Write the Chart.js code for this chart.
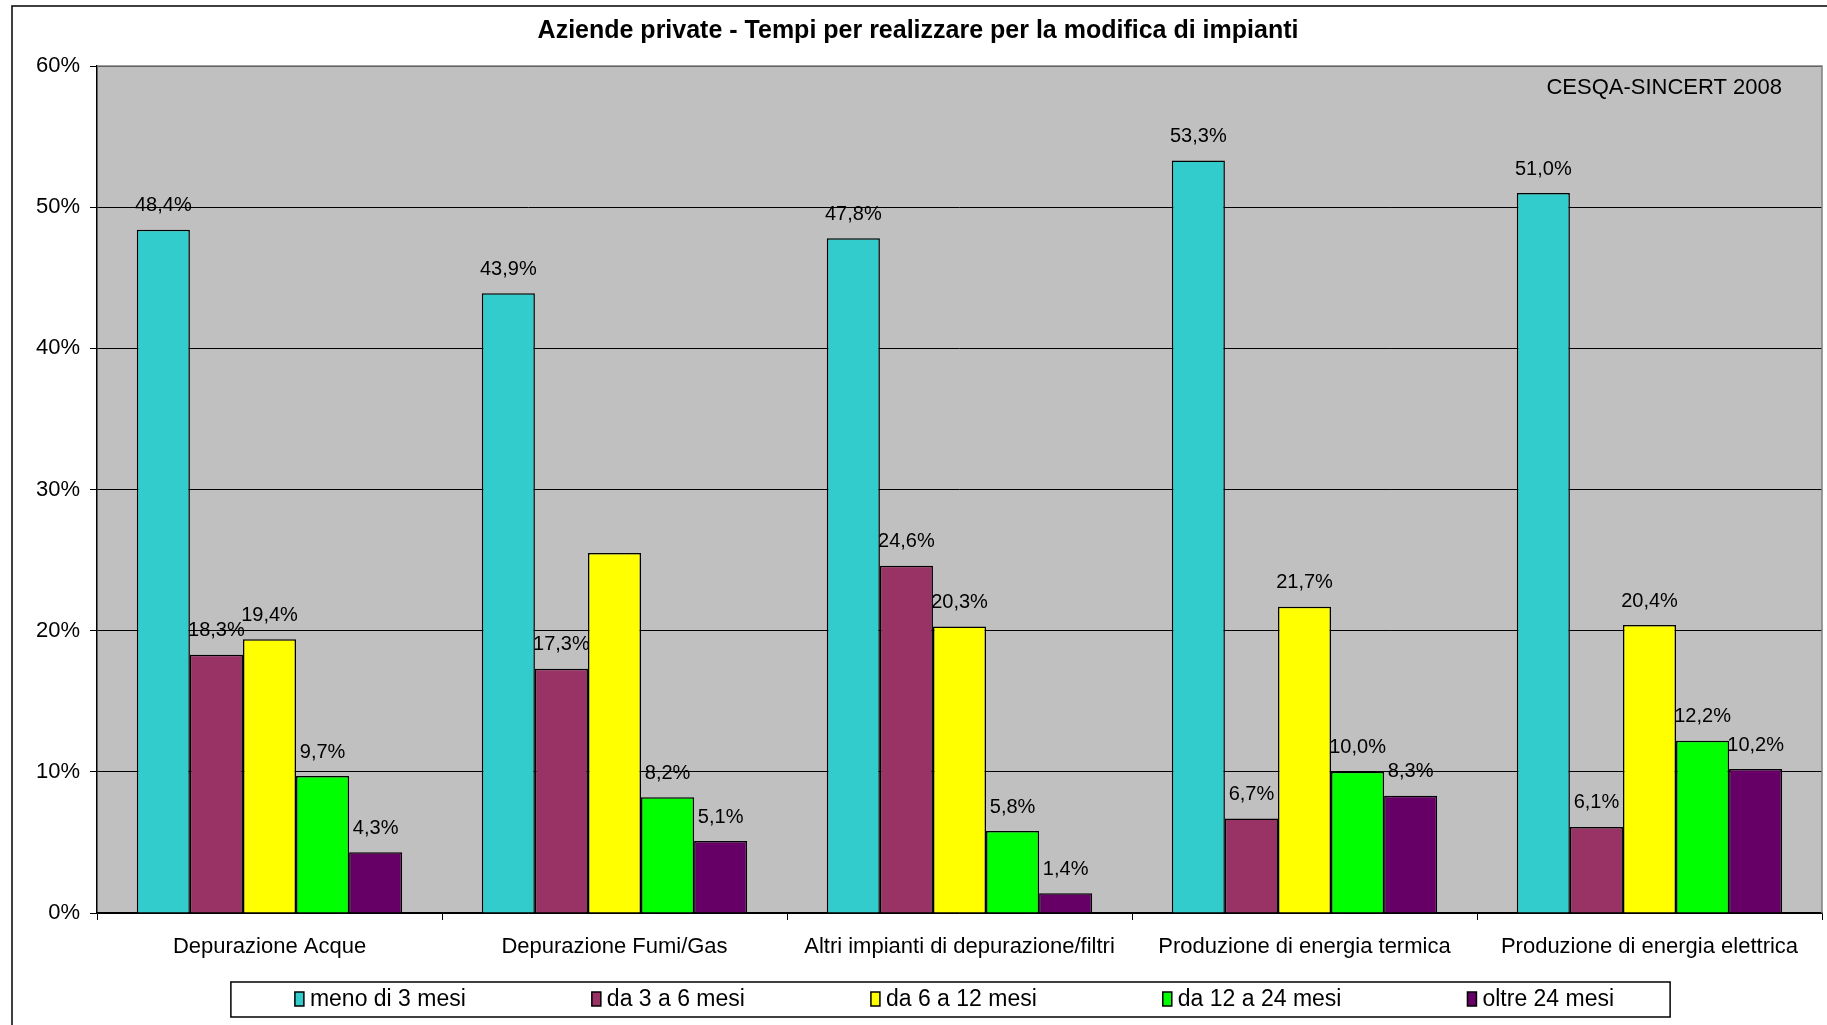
<!DOCTYPE html>
<html>
<head>
<meta charset="utf-8">
<script src="https://cdn.jsdelivr.net/npm/chart.js@4"></script>
<style>
  html, body { margin: 0; padding: 0; background: #fff; overflow: hidden; }
  #wrap { width: 1827px; height: 1025px; position: relative; }
</style>
</head>
<body>
<div id="wrap"><canvas id="chart"></canvas></div>
<script>
// Data
const categories = ['Depurazione Acque', 'Depurazione Fumi/Gas', 'Altri impianti di depurazione/filtri',
  'Produzione di energia termica', 'Produzione di energia elettrica'];
const seriesNames = ['meno di 3 mesi', 'da 3 a 6 mesi', 'da 6 a 12 mesi', 'da 12 a 24 mesi', 'oltre 24 mesi'];
const meno3 = [48.4, 43.9, 47.8, 53.3, 51.0];
const da3a6 = [18.3, 17.3, 24.6, 6.7, 6.1];
const da6a12 = [19.4, 25.5, 20.3, 21.7, 20.4];
const da12a24 = [9.7, 8.2, 5.8, 10.0, 12.2];
const oltre24 = [4.3, 5.1, 1.4, 8.3, 10.2];
const yTicks = [0, 10, 20, 30, 40, 50, 60];
const colors = ['#33CCCC', '#993366', '#FFFF00', '#00FF00', '#660066'];
// the original has no label on this bar (dataset, index)
const hiddenLabels = [[2, 1]];

const FONT = "'Liberation Sans', Arial, sans-serif";
const allSeries = [meno3, da3a6, da6a12, da12a24, oltre24];

const fmt = v => v.toFixed(1).replace('.', ',') + '%';

// Plot background + outer frame
const backdrop = {
  id: 'backdrop',
  beforeDraw(chart) {
    const { ctx, chartArea: a } = chart;
    ctx.save();
    ctx.fillStyle = '#fff';
    ctx.fillRect(0, 0, chart.width, chart.height);
    ctx.fillStyle = '#C0C0C0';
    ctx.fillRect(a.left, a.top, a.right - a.left, a.bottom - a.top);
    ctx.strokeStyle = '#000';
    ctx.lineWidth = 1.5;
    ctx.beginPath();
    ctx.moveTo(12, chart.height);
    ctx.lineTo(12, 6);
    ctx.lineTo(chart.width, 6);
    ctx.stroke();
    ctx.restore();
  }
};

// Value labels above bars
const valueLabels = {
  id: 'valueLabels',
  afterDatasetsDraw(chart) {
    const ctx = chart.ctx;
    ctx.save();
    ctx.font = '20px ' + FONT;
    ctx.fillStyle = '#000';
    ctx.textAlign = 'center';
    ctx.textBaseline = 'middle';
    chart.data.datasets.forEach((ds, di) => {
      chart.getDatasetMeta(di).data.forEach((bar, i) => {
        if (hiddenLabels.some(h => h[0] === di && h[1] === i)) return;
        ctx.fillText(fmt(ds.data[i]), bar.x, bar.y - 24);
      });
    });
    ctx.restore();
  }
};

// Plot border, watermark and the framed legend
const extras = {
  id: 'extras',
  afterDraw(chart) {
    const { ctx, chartArea: a } = chart;
    ctx.save();
    ctx.strokeStyle = '#808080';
    ctx.lineWidth = 1.5;
    ctx.beginPath();
    ctx.moveTo(a.left, a.top);
    ctx.lineTo(a.right, a.top);
    ctx.lineTo(a.right, a.bottom);
    ctx.stroke();

    ctx.fillStyle = '#000';
    ctx.font = '22px ' + FONT;
    ctx.textAlign = 'right';
    ctx.textBaseline = 'middle';
    ctx.fillText('CESQA-SINCERT 2008', a.right - 40, a.top + 22);

    // legend
    ctx.font = '23px ' + FONT;
    const boxW = 9, boxH = 14, gap = 6, pad = 126;
    const widths = seriesNames.map(n => boxW + gap + ctx.measureText(n).width);
    const total = widths.reduce((s, w) => s + w, 0) + pad * (widths.length - 1);
    const cy = chart.height - 26;
    let x = (a.left + a.right) / 2 - total / 2 - 5;
    const startX = x;
    ctx.textAlign = 'left';
    seriesNames.forEach((n, i) => {
      ctx.fillStyle = colors[i];
      ctx.fillRect(x, cy - boxH / 2, boxW, boxH);
      ctx.strokeStyle = '#000';
      ctx.lineWidth = 1.5;
      ctx.strokeRect(x, cy - boxH / 2, boxW, boxH);
      ctx.fillStyle = '#000';
      ctx.fillText(n, x + boxW + gap, cy + 1);
      x += widths[i] + pad;
    });
    const endX = x - pad;
    ctx.strokeStyle = '#000';
    ctx.lineWidth = 1.5;
    ctx.strokeRect(startX - 64, cy - 17, endX - startX + 120, 35);
    ctx.restore();
  }
};

new Chart(document.getElementById('chart'), {
  type: 'bar',
  data: {
    labels: categories,
    datasets: allSeries.map((data, i) => ({
      label: seriesNames[i],
      data: data,
      backgroundColor: colors[i],
      borderColor: '#000',
      borderWidth: 1.5,
      categoryPercentage: 5 / 6.5,
      barPercentage: 1
    }))
  },
  options: {
    responsive: true,
    maintainAspectRatio: false,
    animation: false,
    layout: { padding: { left: 14, right: 5, top: 2, bottom: 62 } },
    plugins: {
      legend: { display: false },
      tooltip: { enabled: false },
      title: {
        display: true,
        text: 'Aziende private - Tempi per realizzare per la modifica di impianti',
        color: '#000',
        font: { family: FONT, size: 25, weight: 'bold' },
        padding: { top: 14, bottom: 20 }
      }
    },
    scales: {
      x: {
        offset: true,
        afterFit: s => { s.height = 50; },
        grid: { offset: true, drawOnChartArea: false, color: '#000', tickLength: 7, lineWidth: 1 },
        border: { color: '#000', width: 1.5 },
        ticks: { color: '#000', font: { family: FONT, size: 22 }, padding: 14, maxRotation: 0, autoSkip: false }
      },
      y: {
        min: yTicks[0],
        max: yTicks[yTicks.length - 1],
        afterBuildTicks: s => { s.ticks = yTicks.map(v => ({ value: v })); },
        afterFit: s => { s.width = 83; },
        grid: { color: '#000', lineWidth: 1, tickLength: 7 },
        border: { color: '#000', width: 1.5 },
        ticks: { color: '#000', font: { family: FONT, size: 22 }, padding: 10, callback: v => v + '%' }
      }
    }
  },
  plugins: [backdrop, valueLabels, extras]
});
</script>
</body>
</html>
